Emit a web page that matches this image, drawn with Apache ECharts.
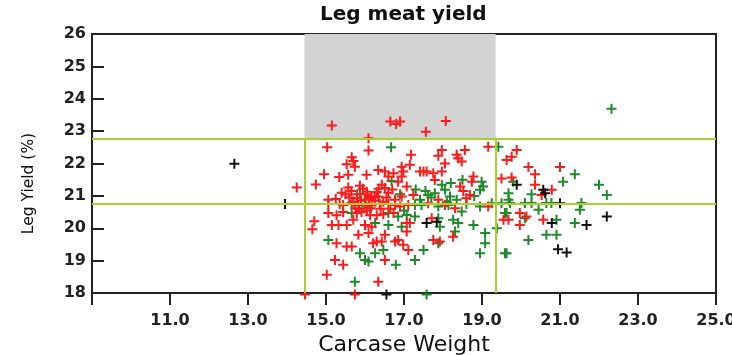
<!DOCTYPE html>
<html>
<head>
<meta charset="utf-8">
<script src="https://cdn.jsdelivr.net/npm/echarts@6/dist/echarts.min.js"></script>
<style>
  html, body { margin: 0; padding: 0; background: #fff; }
  #chart { width: 732px; height: 355px; }
</style>
</head>
<body>
<div id="chart"></div>
<script>
// cut-off values for the reference box
const yieldLines = [22.75, 20.75]
const weightLines = [14.45, 19.35]

// [carcase weight, leg yield %]
const redPts = [
  [14.25, 21.26], [14.74, 21.35], [14.7, 20.22], [14.65, 19.97], [14.95, 21.67], [14.46, 17.95],
  [15.15, 23.17], [16.65, 23.3], [16.8, 23.22], [16.9, 23.3], [17.56, 22.98], [18.07, 23.31],
  [16.09, 22.78], [15.03, 22.5], [16.09, 22.4], [15.66, 22.19], [15.7, 22.08], [15.53, 21.98],
  [15.74, 21.9], [15.34, 21.58], [15.57, 21.65], [16.04, 21.65], [16.34, 21.8], [16.51, 21.75],
  [16.6, 21.6], [16.73, 21.7], [15.57, 21.26], [15.87, 21.31], [16.04, 21.13], [16.43, 21.34],
  [16.51, 21.24], [16.17, 20.98], [15.79, 20.93], [16.0, 20.88], [16.34, 20.98], [16.47, 20.82],
  [15.06, 20.88], [16.77, 20.88],
  [17.97, 22.42], [17.88, 22.24], [18.56, 22.42], [18.35, 22.27], [18.39, 22.16], [18.48, 22.06],
  [19.16, 22.52], [17.18, 22.27], [17.15, 21.96], [16.94, 21.9], [16.98, 21.75], [16.94, 21.6],
  [16.85, 21.44], [17.41, 21.75], [17.5, 21.75], [17.58, 21.75], [18.05, 22.0], [17.97, 21.75],
  [17.75, 21.7], [17.79, 21.49], [17.07, 21.29], [18.78, 21.6], [18.74, 21.44], [19.5, 21.54],
  [18.44, 21.29], [18.52, 21.15], [18.69, 21.03], [16.94, 20.98], [17.24, 21.03], [17.88, 20.88],
  [18.6, 20.93],
  [19.89, 22.42], [19.76, 22.21], [19.63, 22.11], [20.19, 21.89], [21.0, 21.89], [20.36, 21.67],
  [19.76, 21.57], [20.36, 21.34], [20.79, 21.19], [20.53, 21.03],
  [15.06, 20.75], [15.44, 20.72], [15.66, 20.78], [15.83, 20.72], [16.0, 20.75], [16.17, 20.7],
  [16.38, 20.75], [16.6, 20.75], [16.77, 20.72],
  [15.06, 20.47], [15.27, 20.4], [15.44, 20.5], [15.79, 20.47], [15.91, 20.5], [16.13, 20.4],
  [16.3, 20.4], [16.47, 20.43], [16.73, 20.47],
  [15.15, 20.1], [15.32, 20.1], [15.53, 20.1], [15.7, 20.26], [16.0, 20.1], [16.17, 20.05],
  [15.83, 19.8], [16.09, 19.85], [16.51, 19.8], [16.3, 19.59], [16.21, 19.54], [16.43, 19.59],
  [16.77, 19.59], [15.27, 19.54], [15.53, 19.44], [15.66, 19.44], [15.23, 19.02], [15.44, 18.87],
  [16.51, 19.02], [15.02, 18.56], [16.34, 18.35], [15.74, 17.95],
  [16.9, 20.67], [17.11, 20.72], [17.62, 20.77], [18.05, 20.72], [18.31, 20.62], [19.16, 20.67],
  [17.07, 20.16], [17.15, 20.16], [17.07, 19.9], [17.71, 20.31], [18.26, 19.74], [19.55, 20.26],
  [17.75, 19.64], [17.92, 19.59], [16.85, 19.64], [16.98, 19.49], [17.11, 19.33],
  [19.97, 20.47], [20.14, 20.36], [19.97, 20.1], [19.68, 20.26], [20.57, 20.26],
  [15.6, 20.95], [15.7, 20.82], [15.8, 21.05], [15.9, 20.85], [16.05, 21.05], [16.1, 20.9],
  [16.25, 20.85], [16.3, 21.12], [15.5, 21.05], [15.65, 21.15], [15.75, 20.62], [15.85, 20.6],
  [16.05, 20.55], [16.15, 20.62], [16.25, 20.95], [16.4, 20.6], [16.55, 20.95], [16.6, 21.1],
  [16.65, 20.6], [16.7, 21.2], [15.95, 21.22], [16.35, 21.22], [15.4, 21.1], [15.25, 20.9],
  [15.35, 20.75]
]

const greenPts = [
  [16.67, 22.5], [19.42, 22.52], [16.68, 21.46], [15.87, 21.05], [18.99, 21.44], [19.03, 21.29],
  [18.95, 21.19], [17.97, 21.34], [18.05, 21.19], [17.79, 21.08], [17.62, 21.03], [17.41, 20.88],
  [18.18, 20.98], [18.35, 20.88], [22.32, 23.69], [21.38, 21.67], [19.8, 21.44], [21.08, 21.44],
  [22.0, 21.34], [20.27, 21.05], [22.2, 21.03], [19.68, 21.08], [19.68, 20.88],
  [15.66, 20.47], [16.04, 20.67], [16.6, 20.47], [16.26, 20.16], [16.6, 20.1], [15.06, 19.64],
  [15.87, 19.23], [16.0, 19.02], [16.09, 18.97], [16.26, 19.23], [16.47, 19.33], [16.79, 18.87],
  [15.74, 18.35],
  [17.28, 20.72], [17.45, 20.72], [17.88, 20.67], [18.14, 20.72], [18.48, 20.52], [18.95, 20.67],
  [19.25, 20.77], [19.5, 20.77], [16.85, 20.36], [17.07, 20.41], [17.28, 20.36], [16.94, 20.05],
  [17.88, 20.31], [17.92, 20.05], [18.26, 20.26], [18.39, 20.16], [18.31, 19.9], [18.78, 20.1],
  [19.08, 19.85], [19.38, 20.0], [19.59, 20.47], [17.88, 19.54], [17.5, 19.33], [17.28, 19.02],
  [19.08, 19.54], [18.95, 19.23], [19.59, 19.23], [17.58, 17.95],
  [19.72, 20.78], [20.1, 20.78], [20.27, 20.78], [20.65, 20.78], [20.78, 20.78], [21.55, 20.78],
  [19.63, 20.47], [20.1, 20.31], [20.45, 20.57], [21.51, 20.57], [20.91, 20.26], [21.38, 20.16],
  [20.19, 19.64], [20.65, 19.8], [20.91, 19.8], [19.63, 19.23],
  [17.3, 21.2], [17.55, 21.15], [18.2, 21.4], [18.5, 21.5], [17.7, 20.95], [18.1, 20.8],
  [18.6, 20.75], [18.8, 21.0], [17.0, 20.55], [16.9, 21.05]
]

const blackPts = [
  [12.65, 21.99], [13.95, 20.75], [19.89, 21.34], [20.57, 21.19], [20.62, 21.08], [21.0, 20.77],
  [20.79, 20.16], [21.68, 20.1], [22.2, 20.36], [20.95, 19.35], [21.17, 19.25], [17.58, 20.16],
  [17.84, 20.2], [16.55, 17.95]
]

const plus = 'path://M4,0H6V4H10V6H6V10H4V6H0V4H4Z'
const font = 'DejaVu Sans'
const lineGreen = '#a8d030'

function pointSeries(name, data, color) {
  return {
    name, type: 'scatter', data, symbol: plus, symbolSize: 10, clip: false, z: 3,
    itemStyle: { color, opacity: 1 }, silent: true
  }
}

const chart = echarts.init(document.getElementById('chart'), null, { renderer: 'canvas' })
chart.setOption({
  animation: false,
  backgroundColor: '#fff',
  title: {
    text: 'Leg meat yield', left: 320, top: 5, padding: 0,
    textStyle: { fontFamily: font, fontWeight: 'bold', fontSize: 20, color: '#111' }
  },
  grid: {
    left: 92, right: 16, top: 34, bottom: 62,
    outerBoundsMode: 'none', containLabel: false,
    show: true, borderColor: '#222', borderWidth: 2, backgroundColor: '#fff'
  },
  xAxis: {
    type: 'value', min: 9, max: 25, interval: 2,
    name: 'Carcase Weight', nameLocation: 'middle', nameGap: 40,
    nameTextStyle: { fontFamily: font, fontSize: 22, color: '#111' },
    axisLine: { lineStyle: { color: '#222', width: 2 } },
    axisTick: { inside: false, length: 12, lineStyle: { color: '#222', width: 2 } },
    axisLabel: {
      margin: 20, fontFamily: font, fontWeight: 'bold', fontSize: 16, color: '#222',
      formatter: v => (v === 9 ? '' : v.toFixed(1))
    },
    splitLine: { show: false }
  },
  yAxis: {
    type: 'value', min: 18, max: 26, interval: 1,
    name: 'Leg Yield (%)', nameLocation: 'middle', nameGap: 55,
    nameTextStyle: { fontFamily: font, fontSize: 15.5, color: '#111', padding: [0, 40, 0, 0] },
    axisLine: { lineStyle: { color: '#222', width: 2 } },
    axisTick: { inside: true, length: 12, lineStyle: { color: '#222', width: 2 } },
    axisLabel: { margin: 6, fontFamily: font, fontWeight: 'bold', fontSize: 16, color: '#222' },
    splitLine: { show: false }
  },
  series: [
    {
      type: 'scatter', data: [], z: 1, silent: true,
      markArea: {
        silent: true,
        itemStyle: { color: '#d3d3d3', opacity: 1 },
        data: [[{ coord: [weightLines[0], yieldLines[0]] }, { coord: [weightLines[1], 26] }]]
      },
      markLine: {
        silent: true, symbol: 'none', animation: false,
        label: { show: false },
        lineStyle: { color: lineGreen, width: 2, type: 'solid' },
        data: [
          { yAxis: yieldLines[0] },
          { yAxis: yieldLines[1] },
          [{ coord: [weightLines[0], 18] }, { coord: [weightLines[0], yieldLines[0]] }],
          [{ coord: [weightLines[1], 18] }, { coord: [weightLines[1], yieldLines[0]] }]
        ]
      }
    },
    pointSeries('green', greenPts, '#1f8a2a'),
    pointSeries('red', redPts, '#ff1a1a'),
    pointSeries('black', blackPts, '#111')
  ]
})
</script>
</body>
</html>
